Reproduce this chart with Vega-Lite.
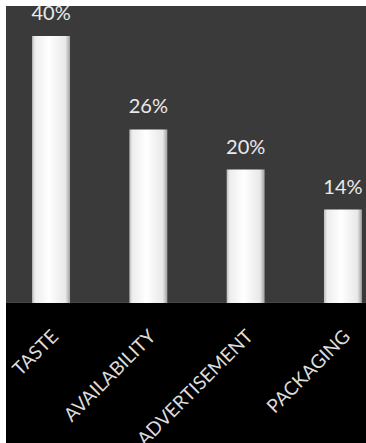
{
  "$schema": "https://vega.github.io/schema/vega-lite/v6.json",
  "padding": {"left": 6, "top": 6, "right": 0, "bottom": 0},
  "background": "#ffffff",
  "spacing": 0,
  "config": {"view": {"strokeWidth": 0}},
  "data": {
    "values": [
      {"factor": "TASTE", "value": 40, "label": "40%"},
      {"factor": "AVAILABILITY", "value": 26, "label": "26%"},
      {"factor": "ADVERTISEMENT", "value": 20, "label": "20%"},
      {"factor": "PACKAGING", "value": 14, "label": "14%"}
    ]
  },
  "vconcat": [
    {
      "width": 360,
      "height": 297,
      "view": {"fill": "#3a3a3a", "strokeWidth": 0},
      "encoding": {
        "x": {"field": "factor", "type": "nominal", "sort": null,
              "axis": {"domain": true, "domainColor": "#6a6a6a", "domainWidth": 1.5, "labels": false, "ticks": false, "title": null, "grid": false},
              "scale": {"type": "band", "paddingInner": 0.61, "paddingOuter": 0.155, "align": 0.865}},
        "y": {"field": "value", "type": "quantitative", "scale": {"domain": [0, 44.5], "nice": false}, "axis": null}
      },
      "layer": [
        {
          "mark": {
            "type": "bar",
            "color": {
              "gradient": "linear",
              "x1": 0, "x2": 1, "y1": 0, "y2": 0,
              "stops": [
                {"offset": 0, "color": "#bcbcbc"},
                {"offset": 0.08, "color": "#ededed"},
                {"offset": 0.45, "color": "#ffffff"},
                {"offset": 0.88, "color": "#e8e8e8"},
                {"offset": 1, "color": "#a0a0a0"}
              ]
            }
          }
        },
        {
          "mark": {"type": "text", "font": "Lato", "fontSize": 20, "color": "#ebebeb", "baseline": "alphabetic", "dy": -16, "clip": true},
          "encoding": {"text": {"field": "label"}}
        }
      ]
    },
    {
      "width": 360,
      "height": 140,
      "view": {"fill": "#000000", "strokeWidth": 0},
      "mark": {"type": "text", "font": "Lato", "fontSize": 19, "color": "#dcdcdc", "angle": 315, "align": "right", "baseline": "middle", "dx": 31, "dy": -25},
      "encoding": {
        "x": {"field": "factor", "type": "nominal", "sort": null, "axis": null, "bandPosition": 0.5,
              "scale": {"type": "band", "paddingInner": 0.61, "paddingOuter": 0.155, "align": 0.865}},
        "text": {"field": "factor"}
      }
    }
  ]
}
